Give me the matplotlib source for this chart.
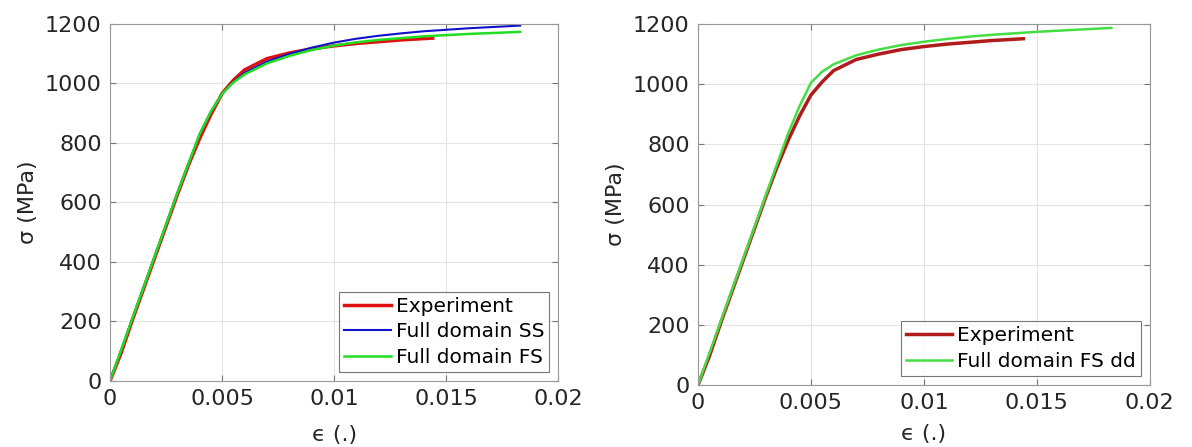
import matplotlib.pyplot as plt

# left panel: experiment vs small-strain / finite-strain full-domain models
exp_strain = [0.0, 0.0005, 0.001, 0.002, 0.003, 0.0035, 0.004, 0.0045, 0.005, 0.0055,
              0.006, 0.007, 0.008, 0.009, 0.010, 0.011, 0.012, 0.013, 0.0144]
exp_stress = [0, 95, 205, 415, 625, 725, 815, 895, 966, 1010,
              1045, 1083, 1102, 1116, 1126, 1134, 1140, 1146, 1152]

ss_strain = [0.0, 0.0005, 0.001, 0.002, 0.003, 0.0035, 0.004, 0.0045, 0.005, 0.0055,
             0.006, 0.007, 0.008, 0.009, 0.010, 0.011, 0.012, 0.013, 0.014, 0.015,
             0.016, 0.017, 0.0183]
ss_stress = [0, 105, 210, 420, 630, 730, 830, 905, 965, 1005,
             1035, 1073, 1099, 1120, 1137, 1150, 1160, 1168, 1175, 1180,
             1185, 1189, 1194]

fs_strain = [0.0, 0.0005, 0.001, 0.002, 0.003, 0.0035, 0.004, 0.0045, 0.005, 0.0055,
             0.006, 0.007, 0.008, 0.009, 0.010, 0.011, 0.012, 0.013, 0.014, 0.015,
             0.016, 0.017, 0.0183]
fs_stress = [0, 105, 210, 420, 630, 730, 830, 905, 965, 1003,
             1030, 1067, 1092, 1112, 1127, 1138, 1146, 1152, 1158, 1162,
             1166, 1169, 1173]

# right panel: experiment vs finite-strain model (dd)
exp2_strain = [0.0, 0.0005, 0.001, 0.002, 0.003, 0.0035, 0.004, 0.0045, 0.005, 0.0055,
               0.006, 0.007, 0.008, 0.009, 0.010, 0.011, 0.012, 0.013, 0.0144]
exp2_stress = [0, 95, 205, 415, 625, 725, 815, 895, 964, 1008,
               1045, 1082, 1100, 1115, 1125, 1133, 1139, 1145, 1151]

dd_strain = [0.0, 0.0005, 0.001, 0.002, 0.003, 0.0035, 0.004, 0.0045, 0.005, 0.0055,
             0.006, 0.007, 0.008, 0.009, 0.010, 0.011, 0.012, 0.013, 0.014, 0.015,
             0.016, 0.017, 0.0183]
dd_stress = [0, 105, 210, 420, 630, 735, 838, 928, 1005, 1042,
             1066, 1096, 1115, 1130, 1141, 1150, 1158, 1164, 1169, 1174,
             1178, 1182, 1187]

xticks = [0, 0.005, 0.01, 0.015, 0.02]
xticklabels = ['0', '0.005', '0.01', '0.015', '0.02']
yticks = [0, 200, 400, 600, 800, 1000, 1200]

plt.rcParams['font.family'] = ['DejaVu Sans']

fig = plt.figure(figsize=(11.92, 4.47), dpi=100)
ax1 = fig.add_axes([0.0923, 0.1477, 0.376, 0.799])
ax2 = fig.add_axes([0.5856, 0.1387, 0.379, 0.8076])


def style_axes(ax, xpad):
    ax.set_xlim(0, 0.02)
    ax.set_ylim(0, 1200)
    ax.set_xticks(xticks)
    ax.set_xticklabels(xticklabels)
    ax.set_yticks(yticks)
    ax.grid(True, color='#e3e3e3', linewidth=0.8)
    ax.set_axisbelow(True)
    ax.tick_params(direction='in', top=True, right=True, labelsize=16,
                   colors='#777777', labelcolor='#262626', length=4, pad=6)
    for s in ax.spines.values():
        s.set_color('#999999')
        s.set_linewidth(0.8)
    ax.set_xlabel('\u03f5 (.)', fontsize=16, color='#262626', labelpad=xpad)
    ax.set_ylabel('\u03c3 (MPa)', fontsize=16, color='#262626', labelpad=5)


def style_legend(leg):
    leg.get_frame().set_edgecolor('#555555')
    leg.get_frame().set_linewidth(0.8)


# 左图
ax1.plot(exp_strain, exp_stress, color='#dd1111', linewidth=2.5, label='Experiment')
ax1.plot(ss_strain, ss_stress, color='#1111cc', linewidth=1.5, label='Full domain SS')
ax1.plot(fs_strain, fs_stress, color='#22dd22', linewidth=1.8, label='Full domain FS')
style_axes(ax1, 11)
leg1 = ax1.legend(loc='lower right', fontsize=14.5, frameon=True, fancybox=False,
                  handlelength=2.3, handletextpad=0.25, borderpad=0.25,
                  labelspacing=0.33, borderaxespad=0.45)
style_legend(leg1)

# 右图
ax2.plot(exp2_strain, exp2_stress, color='#b01c1c', linewidth=2.5, label='Experiment')
ax2.plot(dd_strain, dd_stress, color='#44dd44', linewidth=1.8, label='Full domain FS dd')
style_axes(ax2, 8)
leg2 = ax2.legend(loc='lower right', fontsize=14.5, frameon=True, fancybox=False,
                  handlelength=2.3, handletextpad=0.25, borderpad=0.25,
                  labelspacing=0.33, borderaxespad=0.45)
style_legend(leg2)

fig.savefig('out.png', dpi=100)
